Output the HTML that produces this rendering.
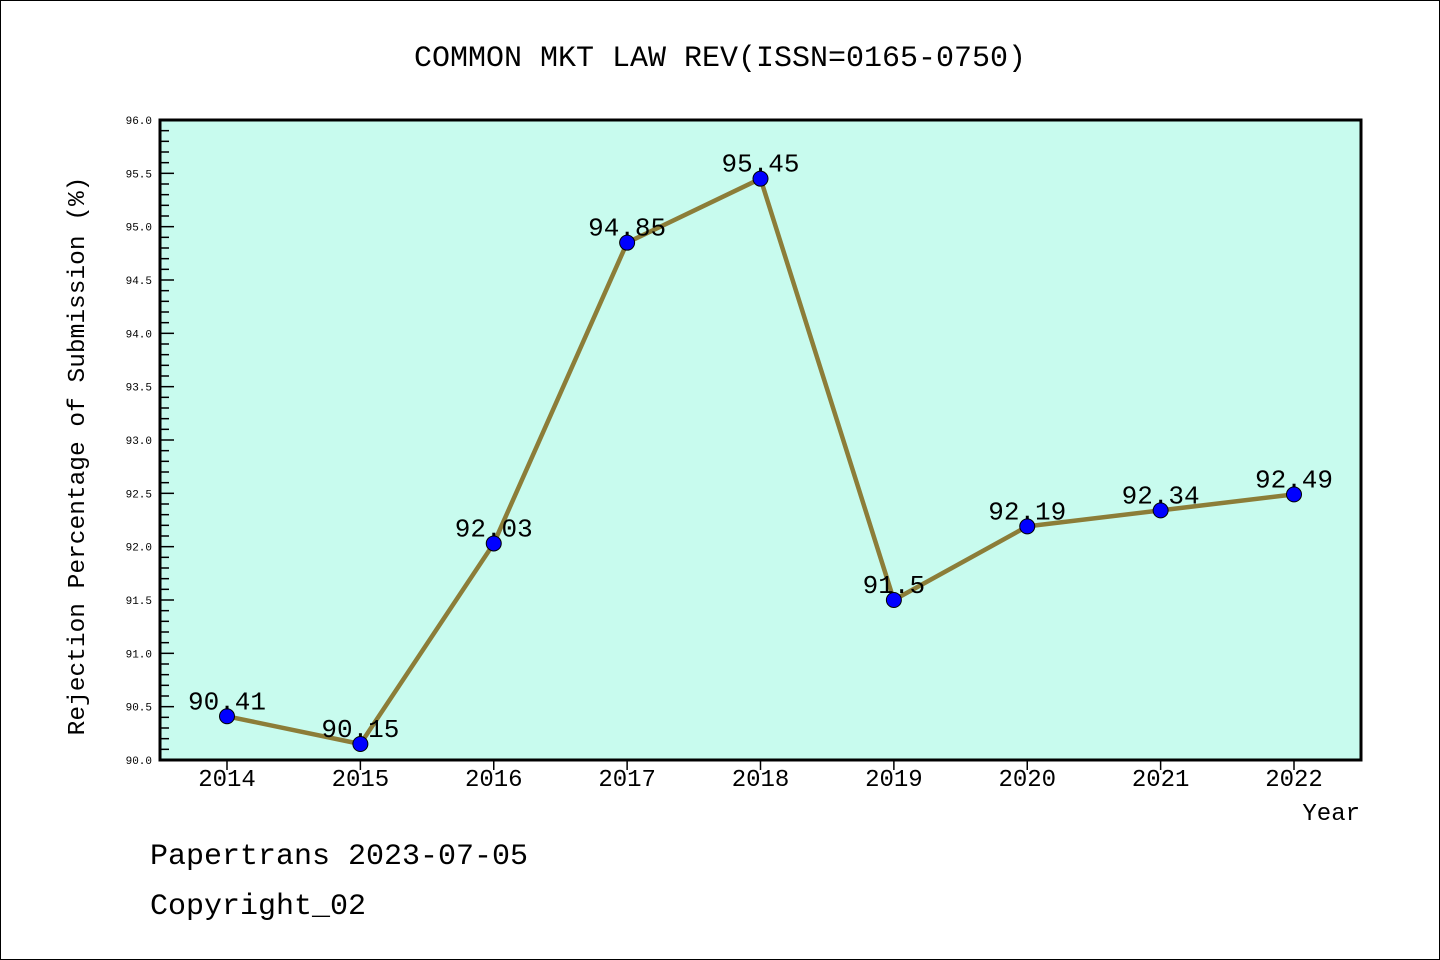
<!DOCTYPE html>
<html><head><meta charset="utf-8"><style>
body{margin:0;background:#fff}
svg{display:block}
text{font-family:"Liberation Mono","WenQuanYi Zen Hei",monospace;fill:#000}
</style></head><body>
<svg id="chart" width="1440" height="960">
<rect x="0.5" y="0.5" width="1439" height="959" fill="#fff" stroke="#000"/>
<text x="720" y="66" font-size="30" text-anchor="middle">COMMON MKT LAW REV(ISSN=0165-0750)</text>
<rect x="160" y="120" width="1201" height="640" fill="#c8fbee"/>
<g id="yticks"></g><g id="xticks"></g><g id="series"></g>
<rect x="160" y="120" width="1201" height="640" fill="none" stroke="#000" stroke-width="3"/>
<text transform="translate(84,456) rotate(-90)" font-size="24.5" text-anchor="middle">Rejection Percentage of Submission (%)</text>
<text x="1360" y="820" font-size="24" text-anchor="end">Year</text>
<text x="150" y="864" font-size="30">Papertrans 2023-07-05</text>
<text x="150" y="914" font-size="30">Copyright_02</text>
</svg>
<script>
const years=[2014,2015,2016,2017,2018,2019,2020,2021,2022];
const values=[90.41,90.15,92.03,94.85,95.45,91.5,92.19,92.34,92.49];
const valueLabels=["90.41","90.15","92.03","94.85","95.45","91.5","92.19","92.34","92.49"];
const yTickLabels=["90.0","90.5","91.0","91.5","92.0","92.5","93.0","93.5","94.0","94.5","95.0","95.5","96.0"];
const NS="http://www.w3.org/2000/svg";
const yMin=90,yMax=96,plotTop=120,plotBot=760;
const y=v=>plotBot-(v-yMin)/(yMax-yMin)*(plotBot-plotTop);
const x=yr=>227+(yr-2014)*(1294-227)/8;
function mk(tag,attrs,parent){const e=document.createElementNS(NS,tag);for(const k in attrs)e.setAttribute(k,attrs[k]);parent.appendChild(e);return e;}
const yt=document.getElementById('yticks');
for(let i=0;i<=60;i++){const v=yMin+i*0.1;const major=i%5===0;
 const l=mk('line',{x1:160,x2:160+(major?14:9),y1:y(v),y2:y(v),stroke:'#000','stroke-width':1.5},yt);
 
 }
yTickLabels.forEach(s=>{const t=mk('text',{x:152,y:y(parseFloat(s))+4,'font-size':11,'text-anchor':'end'},yt);t.textContent=s;
 
 });
const xt=document.getElementById('xticks');
years.forEach(yr=>{const l=mk('line',{x1:x(yr),x2:x(yr),y1:760,y2:770,stroke:'#000','stroke-width':1.5},xt);
 
 
 const t=mk('text',{x:x(yr),y:786,'font-size':24,'text-anchor':'middle'},xt);t.textContent=yr;
 
 });
const sg=document.getElementById('series');
const pl=mk('polyline',{points:years.map((yr,i)=>x(yr)+','+y(values[i])).join(' '),fill:'none',stroke:'#8c7d38','stroke-width':4.5,'stroke-linejoin':'round'},sg);


years.forEach((yr,i)=>{const c=mk('circle',{cx:x(yr),cy:y(values[i]),r:7.5,fill:'#0000ff',stroke:'#000','stroke-width':1},sg);
 
 
 const t=mk('text',{x:x(yr),y:y(values[i])-7,'font-size':26,'text-anchor':'middle'},sg);t.textContent=valueLabels[i];
 
 });
</script>
</body></html>
